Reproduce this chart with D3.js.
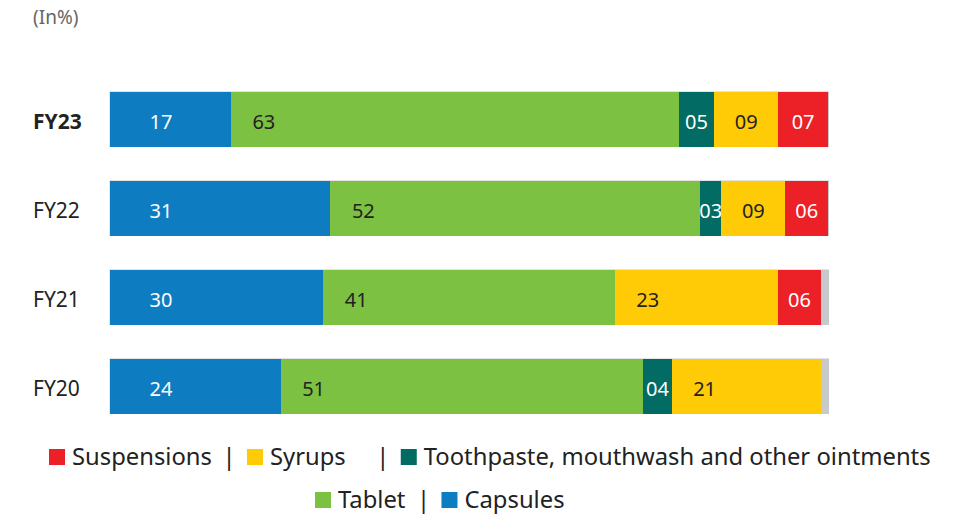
<!DOCTYPE html>
<html>
<head>
<meta charset="utf-8">
<script src="https://cdn.jsdelivr.net/npm/d3@7/dist/d3.min.js"></script>
<style>
  html, body { margin: 0; padding: 0; background: #fff; }
  svg { display: block; font-family: "Noto Sans", "Open Sans", sans-serif; }
</style>
</head>
<body>
<svg id="chart" width="974" height="515"></svg>
<script>
// ---- data ----
const years = ["FY23", "FY22", "FY21", "FY20"];
const seriesNames = ["Capsules", "Tablet", "Toothpaste, mouthwash and other ointments", "Syrups", "Suspensions"];
const capsules    = [17, 31, 30, 24];
const tablet      = [63, 52, 41, 51];
const toothpaste  = [5, 3, 0, 4];
const syrups      = [9, 9, 23, 21];
const suspensions = [7, 6, 6, 0];
const valueLabels = {
  "Capsules":    ["17", "31", "30", "24"],
  "Tablet":      ["63", "52", "41", "51"],
  "Toothpaste, mouthwash and other ointments": ["05", "03", "", "04"],
  "Syrups":      ["09", "09", "23", "21"],
  "Suspensions": ["07", "06", "06", ""]
};
const scaleMax = 101;
const unitLabel = "(In%)";
const legendRow1 = ["Suspensions", "Syrups", "Toothpaste, mouthwash and other ointments"];
const legendRow2 = ["Tablet", "Capsules"];

const colors = {
  "Capsules": "#0e7cc1",
  "Tablet": "#7dc142",
  "Toothpaste, mouthwash and other ointments": "#016b64",
  "Syrups": "#fecb06",
  "Suspensions": "#ec2128"
};
const labelColors = {
  "Capsules": "#ffffff",
  "Tablet": "#222222",
  "Toothpaste, mouthwash and other ointments": "#ffffff",
  "Syrups": "#222222",
  "Suspensions": "#ffffff"
};

const seriesValues = {
  "Capsules": capsules,
  "Tablet": tablet,
  "Toothpaste, mouthwash and other ointments": toothpaste,
  "Syrups": syrups,
  "Suspensions": suspensions
};
const rows = years.map((y, i) => {
  const r = { year: y };
  seriesNames.forEach(s => r[s] = seriesValues[s][i]);
  return r;
});

const svg = d3.select("#chart");
const x = d3.scaleLinear().domain([0, scaleMax]).range([110, 828]);
const y = d3.scaleBand().domain(years).range([75, 431]).paddingInner(0.393).paddingOuter(0.1965);

svg.append("text").attr("x", 33).attr("y", 24)
  .attr("font-size", 19).attr("fill", "#666").text(unitLabel);

// gray backgrounds
svg.append("g").selectAll("rect").data(years).join("rect")
  .attr("x", x(0) - 0.5).attr("y", d => y(d) - 1)
  .attr("width", x(scaleMax) - x(0) + 1.5).attr("height", y.bandwidth() + 1.5)
  .attr("fill", "#c8c9cb");

const stacked = d3.stack().keys(seriesNames)(rows);
const gS = svg.append("g").selectAll("g").data(stacked).join("g")
  .attr("fill", d => colors[d.key]);
gS.selectAll("rect").data(d => d.map(p => Object.assign(p, { key: d.key }))).join("rect")
  .attr("x", d => x(d[0]))
  .attr("y", d => y(d.data.year))
  .attr("width", d => x(d[1]) - x(d[0]))
  .attr("height", y.bandwidth())
  .attr("shape-rendering", "crispEdges");

// value labels
stacked.forEach((layer, li) => {
  svg.append("g").selectAll("text").data(layer).join("text")
    .attr("x", d => {
      const w = x(d[1]) - x(d[0]);
      if (li === 0) return x(d[0]) + 51;
      return x(d[0]) + Math.min(w / 2, 33);
    })
    .attr("y", d => y(d.data.year) + y.bandwidth() / 2)
    .attr("dy", "0.45em")
    .attr("text-anchor", "middle")
    .attr("font-size", 20)
    .attr("fill", labelColors[layer.key])
    .text((d, i) => valueLabels[layer.key][i]);
});

// y axis labels
svg.append("g").selectAll("text").data(years).join("text")
  .attr("x", 33).attr("y", d => y(d) + y.bandwidth() / 2)
  .attr("dy", "0.45em")
  .attr("font-size", 21)
  .attr("font-weight", d => d === "FY23" ? "bold" : "normal")
  .attr("fill", "#222")
  .text(d => d);

// legend
function legendRow(items, startX, baseY, gaps) {
  let cx = startX;
  const g = svg.append("g");
  items.forEach((name, i) => {
    g.append("rect").attr("x", cx).attr("y", baseY - 16).attr("width", 16).attr("height", 16)
      .attr("fill", colors[name]);
    cx += 23;
    const t = g.append("text").attr("x", cx).attr("y", baseY).attr("font-size", 23.8)
      .attr("fill", "#222").text(name);
    cx += t.node().getComputedTextLength();
    if (i < items.length - 1) {
      cx += gaps[i];
      g.append("text").attr("x", cx).attr("y", baseY).attr("font-size", 23.8)
        .attr("fill", "#222").attr("text-anchor", "middle").text("|");
      cx += 18;
    }
  });
}
legendRow(legendRow1, 49, 465, [17, 37]);
legendRow(legendRow2, 315, 508, [18]);
</script>
</body>
</html>
